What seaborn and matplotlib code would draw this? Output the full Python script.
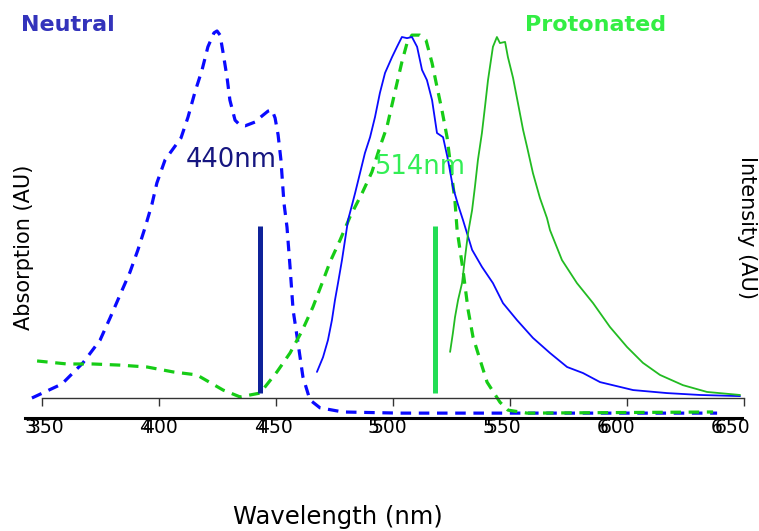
import matplotlib
matplotlib.use("Agg")
import matplotlib.pyplot as plt
import seaborn as sns

# ---------------- data ----------------
abs_neutral_wl = [345.7, 358.5, 367.5, 374.8, 379.1, 383.3, 387.6, 391.0, 394.0, 397.0,
                  399.1, 402.6, 409.4, 412.4, 415.4, 418.4, 420.9, 423.5, 424.8, 426.1,
                  427.4, 429.1, 430.3, 432.5, 434.6, 436.8, 441.0, 444.0, 446.6, 448.3,
                  449.6, 450.9, 452.1, 453.4, 454.7, 456.0, 457.3, 459.4, 461.5, 464.5,
                  468.8, 478.6, 503.0, 638.5]
abs_neutral_val = [0.000, 0.037, 0.093, 0.153, 0.212, 0.272, 0.333, 0.392, 0.450, 0.513,
                   0.569, 0.630, 0.688, 0.743, 0.810, 0.868, 0.929, 0.966, 0.971, 0.960,
                   0.913, 0.847, 0.788, 0.735, 0.722, 0.720, 0.730, 0.746, 0.759, 0.762,
                   0.741, 0.696, 0.630, 0.516, 0.452, 0.347, 0.233, 0.146, 0.056, -0.005,
                   -0.026, -0.037, -0.040, -0.040]

abs_proton_wl = [347.9, 360.7, 371.8, 383.3, 394.9, 406.0, 416.2, 427.4, 434.6, 438.9,
                 443.2, 450.4, 456.0, 461.1, 465.8, 469.7, 473.1, 477.4, 481.6, 486.8,
                 491.0, 494.4, 497.4, 501.7, 503.8, 506.0, 508.1, 511.5, 514.1, 516.7,
                 518.8, 520.9, 523.1, 525.2, 526.5, 527.4, 529.9, 532.1, 534.2, 537.2,
                 540.2, 545.7, 549.1, 557.3, 636.8]
abs_proton_val = [0.098, 0.090, 0.090, 0.087, 0.082, 0.069, 0.061, 0.021, 0.003, 0.008,
                  0.013, 0.069, 0.119, 0.177, 0.241, 0.304, 0.360, 0.418, 0.479, 0.542,
                  0.598, 0.664, 0.717, 0.833, 0.889, 0.939, 0.960, 0.960, 0.947, 0.886,
                  0.823, 0.762, 0.690, 0.585, 0.519, 0.444, 0.339, 0.233, 0.161, 0.101,
                  0.042, -0.011, -0.032, -0.040, -0.037]

em_neutral_wl = [467.5, 470.1, 472.2, 473.9, 475.2, 476.5, 478.2, 479.5, 480.8, 482.5,
                 483.8, 485.9, 488.0, 490.2, 492.3, 494.4, 496.6, 499.6, 501.7, 503.8,
                 506.0, 508.1, 510.3, 512.4, 514.5, 516.7, 518.8, 521.4, 523.5, 525.6,
                 527.8, 529.9, 533.8, 538.0, 542.7, 547.0, 553.0, 559.8, 567.1, 574.4,
                 581.2, 588.5, 602.6, 617.1, 631.2, 648.3]
em_neutral_val = [0.069, 0.108, 0.153, 0.206, 0.259, 0.304, 0.365, 0.418, 0.471, 0.511,
                  0.542, 0.595, 0.648, 0.690, 0.743, 0.807, 0.860, 0.902, 0.929, 0.955,
                  0.952, 0.955, 0.929, 0.868, 0.841, 0.788, 0.701, 0.690, 0.630, 0.558,
                  0.511, 0.471, 0.392, 0.347, 0.304, 0.251, 0.206, 0.159, 0.119, 0.082,
                  0.066, 0.042, 0.021, 0.013, 0.008, 0.005]

em_proton_wl = [524.4, 525.6, 526.5, 527.8, 529.5, 530.8, 532.1, 533.8, 535.0, 536.3,
                538.0, 539.3, 540.6, 542.7, 544.4, 545.7, 547.9, 549.1, 551.3, 553.4,
                555.6, 557.3, 559.8, 562.8, 565.8, 567.1, 572.2, 578.6, 585.5, 592.7,
                600.0, 606.8, 614.1, 623.9, 634.2, 648.3]
em_proton_val = [0.122, 0.172, 0.214, 0.259, 0.304, 0.373, 0.437, 0.497, 0.558, 0.630,
                 0.701, 0.770, 0.841, 0.929, 0.955, 0.939, 0.942, 0.902, 0.847, 0.780,
                 0.709, 0.664, 0.595, 0.529, 0.476, 0.444, 0.365, 0.304, 0.251, 0.188,
                 0.135, 0.093, 0.061, 0.034, 0.016, 0.008]

marker_wl = [443.2, 518.0]
marker_labels = ["440nm", "514nm"]
marker_low = 0.013
marker_high = 0.455

xticks = [350, 400, 450, 500, 550, 600, 650]
xtick_labels = ["350", "400", "450", "500", "550", "600", "650"]

# ---------------- styling ----------------
sns.set_theme(style="white")
plt.rcParams["font.family"] = ["DejaVu Sans"]

W, H = 759, 531
fig = plt.figure(figsize=(W / 100, H / 100), dpi=100)

BLUE = "#0a0aff"
GREEN_D = "#16cc16"
GREEN_S = "#22bb22"
NAVY = "#0f2299"
GREEN_BAR = "#22dd55"

def fx(px):
    return px / W

def fy(py):
    return 1 - py / H

# main data axes: x 350->px42, 650->px744; y 0->px398, 1->px20
ax = fig.add_axes([fx(42), fy(398), (744 - 42) / W, (398 - 20) / H])
ax.set_xlim(350, 650)
ax.set_ylim(0, 1)
ax.patch.set_alpha(0)
for s in ["top", "left", "right"]:
    ax.spines[s].set_visible(False)
ax.spines["bottom"].set_color("#333333")
ax.spines["bottom"].set_linewidth(1.0)
ax.set_xticks(xticks)
ax.set_xticklabels([])
ax.tick_params(axis="x", direction="out", length=6, width=1, color="#333333", bottom=True)
ax.set_yticks([])

dash = (0, (3.3, 2.4))
sns.lineplot(x=abs_neutral_wl, y=abs_neutral_val, ax=ax, color=BLUE, lw=2.3,
             linestyle=dash, sort=False, estimator=None, clip_on=False)
sns.lineplot(x=abs_proton_wl, y=abs_proton_val, ax=ax, color=GREEN_D, lw=2.3,
             linestyle=dash, sort=False, estimator=None, clip_on=False)
sns.lineplot(x=em_neutral_wl, y=em_neutral_val, ax=ax, color=BLUE, lw=1.3,
             sort=False, estimator=None, clip_on=False)
sns.lineplot(x=em_proton_wl, y=em_proton_val, ax=ax, color=GREEN_S, lw=1.3,
             sort=False, estimator=None, clip_on=False)

ax.vlines(marker_wl, marker_low, marker_high, colors=[NAVY, GREEN_BAR], lw=3.6, zorder=3)
ax.set_xlabel("")
ax.set_ylabel("")

# bottom label axis (thick line with tick labels)
lab_px0, lab_scale = 46, 2.287
left_px, right_px = 25, 742
axb = fig.add_axes([fx(left_px), fy(418), (right_px - left_px) / W, 0.0001])
axb.set_xlim(350 - (lab_px0 - left_px) / lab_scale, 350 + (right_px - lab_px0) / lab_scale)
axb.patch.set_alpha(0)
for s in ["top", "left", "right"]:
    axb.spines[s].set_visible(False)
axb.spines["bottom"].set_color("black")
axb.spines["bottom"].set_linewidth(2.2)
axb.set_yticks([])
axb.set_xticks([])
tr = axb.get_xaxis_transform()
for t, lab in zip(xticks, xtick_labels):
    axb.text(t, -2, lab, ha="center", va="top", fontsize=13.5, color="black",
             transform=tr, clip_on=False)
    # doubled leading digit, as in the reference rendering
    axb.text(t - 9.2, -2, lab[0], ha="left", va="top", fontsize=13.5, color="black",
             transform=tr, clip_on=False)

# texts
fig.text(fx(68), fy(25), "Neutral", color="#3333bb", fontsize=16, fontweight="bold",
         ha="center", va="center")
fig.text(fx(596), fy(25), "Protonated", color="#33ee44", fontsize=16, fontweight="bold",
         ha="center", va="center")
fig.text(fx(231), fy(160), marker_labels[0], color="#161680", fontsize=18.5,
         ha="center", va="center", zorder=5)
fig.text(fx(420), fy(167), marker_labels[1], color="#33ee55", fontsize=18.5,
         ha="center", va="center", zorder=5)
fig.text(fx(24), fy(247), "Absorption (AU)", rotation=90, fontsize=15,
         ha="center", va="center", color="black")
fig.text(fx(747), fy(228), "Intensity (AU)", rotation=-90, fontsize=15,
         ha="center", va="center", color="black")
fig.text(fx(338), fy(517), "Wavelength (nm)", fontsize=17.5,
         ha="center", va="center", color="black")

fig.savefig("out.png", dpi=100)
